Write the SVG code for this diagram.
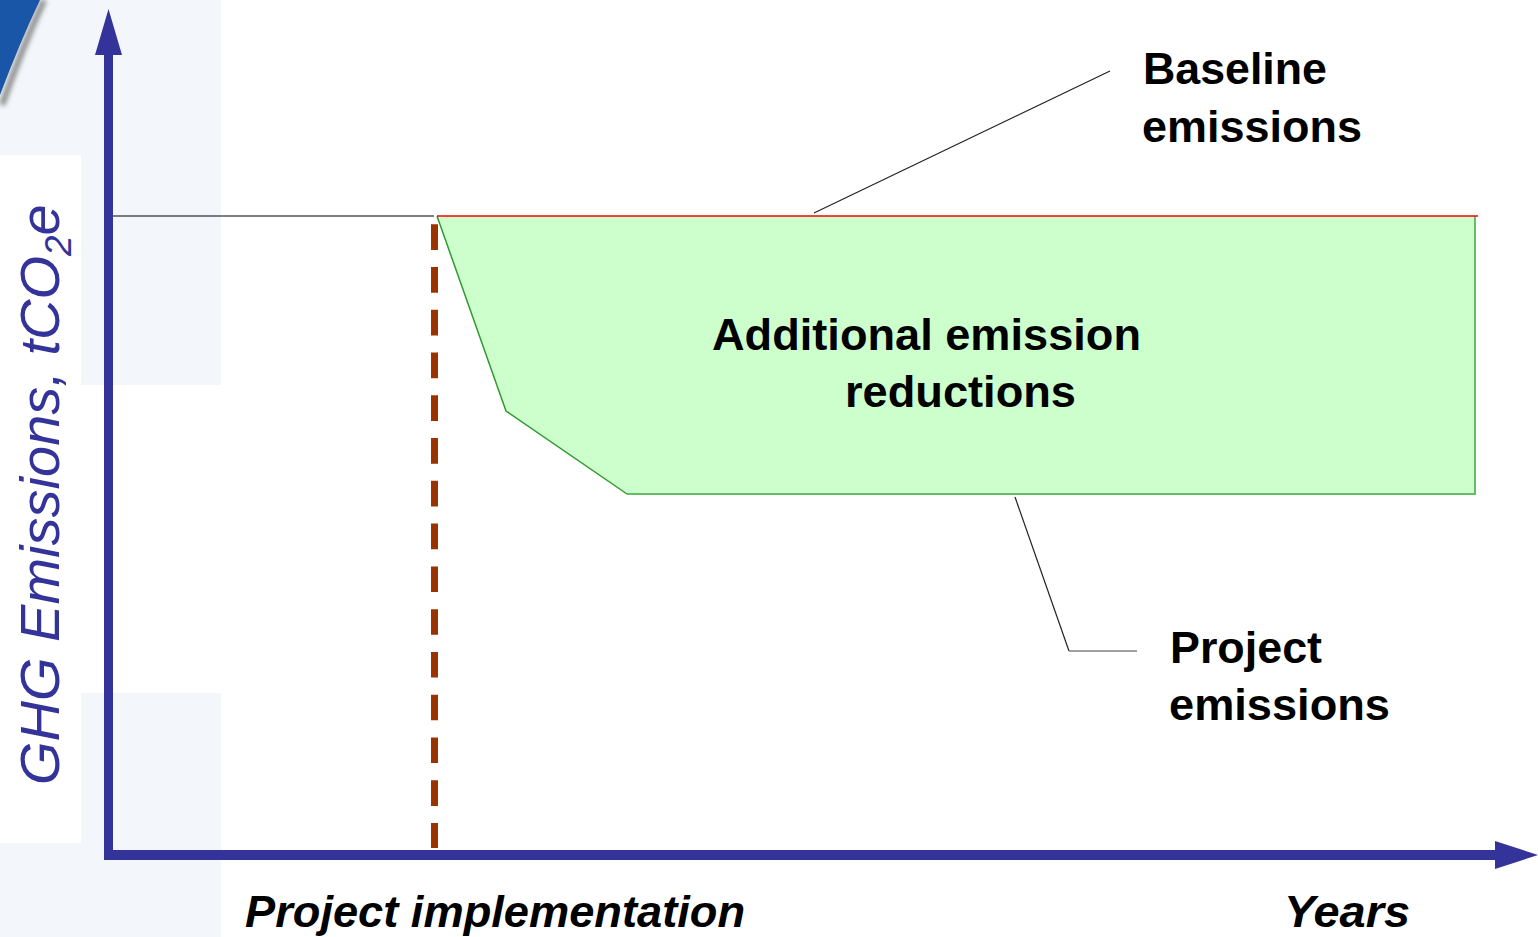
<svg xmlns="http://www.w3.org/2000/svg" width="1538" height="937" viewBox="0 0 1538 937">
  <style>
    .lbl { font-family: "Liberation Sans", Arial, sans-serif; font-weight: bold; font-size: 45px; fill: #000; }
    .ax { fill: #333399; }
    .leader { fill: none; stroke: #222; stroke-width: 1.2; }
  </style>
  <defs>
    <filter id="blur" x="-50%" y="-50%" width="200%" height="200%">
      <feGaussianBlur stdDeviation="2.5"/>
    </filter>
  </defs>
  <rect width="1538" height="937" fill="#ffffff"/>
  <!-- background panels -->
  <g id="background">
    <rect x="0" y="0" width="221" height="937" fill="#f3f7fb"/>
    <rect x="0" y="155" width="81" height="688" fill="#ffffff"/>
    <rect x="81" y="385" width="140" height="308" fill="#ffffff"/>
    <path d="M44,0 Q22,48 2,105" fill="none" stroke="#8a8a8a" stroke-width="6" filter="url(#blur)"/>
    <path d="M0,0 L40,0 Q20,42 0,95 Z" fill="#1a56a8"/>
  </g>
  <!-- shaded region -->
  <g id="reductions-area">
    <polygon points="437,216 1475,216 1475,494 627,494 506,411" fill="#ccffcc" stroke="none"/>
    <polyline points="627,494 1475,494 1475,216" fill="none" stroke="#66bb66" stroke-width="2"/>
    <polyline points="437,216 506,411 627,494" fill="none" stroke="#2f9a2f" stroke-width="1.5"/>
  </g>
  <g id="connectors">
    <line x1="108" y1="216" x2="434" y2="216" stroke="#000" stroke-width="1.2"/>
    <line x1="437" y1="216" x2="1478" y2="216" stroke="#ff0000" stroke-width="1.5"/>
    <line x1="434.5" y1="224.3" x2="434.5" y2="848" stroke="#993300" stroke-width="7" stroke-dasharray="25.7 17.06"/>
    <line class="leader" x1="814" y1="213" x2="1110" y2="71"/>
    <polyline class="leader" points="1015,497 1069,651"/>
    <line x1="1069" y1="651" x2="1137" y2="651" stroke="#808080" stroke-width="1.5"/>
  </g>
  <!-- axes -->
  <g id="y-axis">
    <rect class="ax" x="104" y="52" width="9" height="807"/>
    <polygon class="ax" points="108.5,9 122,55 95,55"/>
  </g>
  <g id="x-axis">
    <rect class="ax" x="104" y="850" width="1393" height="10"/>
    <polygon class="ax" points="1495,841 1538,855 1495,869"/>
  </g>
  <!-- labels -->
  <g id="baseline-label">
    <text class="lbl" x="1143" y="84" textLength="184" lengthAdjust="spacingAndGlyphs">Baseline</text>
    <text class="lbl" x="1142" y="142" textLength="220" lengthAdjust="spacingAndGlyphs">emissions</text>
  </g>
  <g id="area-label">
    <text class="lbl" x="712" y="350" font-size="46" textLength="429" lengthAdjust="spacingAndGlyphs">Additional emission</text>
    <text class="lbl" x="845" y="407" font-size="46" textLength="231" lengthAdjust="spacingAndGlyphs">reductions</text>
  </g>
  <g id="project-label">
    <text class="lbl" x="1170" y="663" textLength="152" lengthAdjust="spacingAndGlyphs">Project</text>
    <text class="lbl" x="1169" y="720" textLength="221" lengthAdjust="spacingAndGlyphs">emissions</text>
  </g>
  <g id="x-labels">
    <text class="lbl" x="245" y="927" font-size="46" font-style="italic" textLength="500" lengthAdjust="spacingAndGlyphs">Project implementation</text>
    <text class="lbl" x="1284" y="927" font-size="46" font-style="italic" fill="#333399" textLength="126" lengthAdjust="spacingAndGlyphs">Years</text>
  </g>
  <g id="y-label">
    <text transform="translate(59,785) rotate(-90)" font-family="Liberation Sans, Arial, sans-serif" font-style="italic" font-size="56" fill="#333399">GHG Emissions, tCO<tspan font-size="37" dy="12">2</tspan><tspan dy="-12">e</tspan></text>
  </g>
</svg>
